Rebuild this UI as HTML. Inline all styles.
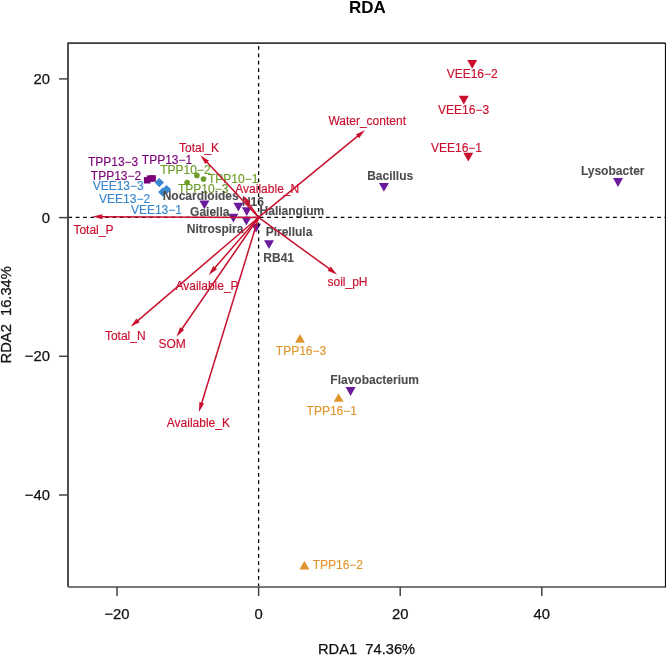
<!DOCTYPE html>
<html><head><meta charset="utf-8"><style>
html,body{margin:0;padding:0;background:#fff;width:666px;height:655px;overflow:hidden}
svg{display:block;will-change:transform;font-family:"Liberation Sans",sans-serif}
</style></head><body>
<svg width="666" height="655" viewBox="0 0 666 655">
<polygon points="467.20,59.90 477.20,59.90 472.20,68.80" fill="#C8102E"/>
<polygon points="458.80,95.70 468.80,95.70 463.80,104.50" fill="#C8102E"/>
<polygon points="463.30,152.70 473.30,152.70 468.30,161.50" fill="#C8102E"/>
<polygon points="295.10,342.70 304.90,342.70 300.00,334.10" fill="#E0962F"/>
<polygon points="333.60,401.70 343.60,401.70 338.60,393.30" fill="#E0962F"/>
<polygon points="299.40,569.50 309.40,569.50 304.40,560.80" fill="#E0962F"/>
<rect x="143.9" y="177.1" width="6.5" height="6.4" fill="#7B0077"/>
<rect x="146.8" y="175.4" width="6.5" height="6.4" fill="#7B0077"/>
<rect x="149.4" y="175.2" width="6.5" height="6.4" fill="#7B0077"/>
<polygon points="159.3,177.9 164.0,182.6 159.3,187.29999999999998 154.60000000000002,182.6" fill="#3A87CF"/>
<polygon points="162.8,187.4 167.5,192.1 162.8,196.79999999999998 158.10000000000002,192.1" fill="#3A87CF"/>
<polygon points="166.6,184.9 171.29999999999998,189.6 166.6,194.29999999999998 161.9,189.6" fill="#3A87CF"/>
<circle cx="196.9" cy="175.4" r="2.8" fill="#6D9C29"/>
<circle cx="203.5" cy="179.1" r="2.8" fill="#6D9C29"/>
<circle cx="187.1" cy="182.6" r="2.8" fill="#6D9C29"/>
<polygon points="613.00,178.10 623.00,178.10 618.00,186.90" fill="#6A1B9A"/>
<polygon points="378.90,182.90 388.90,182.90 383.90,191.70" fill="#6A1B9A"/>
<polygon points="345.60,387.10 355.60,387.10 350.60,395.90" fill="#6A1B9A"/>
<polygon points="199.40,200.40 209.40,200.40 204.40,209.20" fill="#6A1B9A"/>
<polygon points="233.40,202.80 243.40,202.80 238.40,211.60" fill="#6A1B9A"/>
<polygon points="241.80,207.30 251.80,207.30 246.80,216.10" fill="#6A1B9A"/>
<polygon points="228.40,213.70 238.40,213.70 233.40,222.50" fill="#6A1B9A"/>
<polygon points="241.40,216.70 251.40,216.70 246.40,225.50" fill="#6A1B9A"/>
<polygon points="251.10,223.80 261.10,223.80 256.10,232.60" fill="#6A1B9A"/>
<polygon points="264.00,240.30 274.00,240.30 269.00,249.10" fill="#6A1B9A"/>
<text x="472.20" y="77.90" font-size="12" font-weight="normal" fill="#C8102E" stroke="#C8102E" stroke-width="0.15" text-anchor="middle">VEE16−2</text>
<text x="463.60" y="114.00" font-size="12" font-weight="normal" fill="#C8102E" stroke="#C8102E" stroke-width="0.15" text-anchor="middle">VEE16−3</text>
<text x="456.50" y="152.20" font-size="12" font-weight="normal" fill="#C8102E" stroke="#C8102E" stroke-width="0.15" text-anchor="middle">VEE16−1</text>
<text x="301.00" y="355.20" font-size="12" font-weight="normal" fill="#E0962F" stroke="#E0962F" stroke-width="0.15" text-anchor="middle">TPP16−3</text>
<text x="331.75" y="415.10" font-size="12" font-weight="normal" fill="#E0962F" stroke="#E0962F" stroke-width="0.15" text-anchor="middle">TPP16−1</text>
<text x="337.85" y="569.10" font-size="12" font-weight="normal" fill="#E0962F" stroke="#E0962F" stroke-width="0.15" text-anchor="middle">TPP16−2</text>
<text x="113.10" y="165.70" font-size="12" font-weight="normal" fill="#7B0077" stroke="#7B0077" stroke-width="0.15" text-anchor="middle">TPP13−3</text>
<text x="116.05" y="180.10" font-size="12" font-weight="normal" fill="#7B0077" stroke="#7B0077" stroke-width="0.15" text-anchor="middle">TPP13−2</text>
<text x="167.00" y="163.50" font-size="12" font-weight="normal" fill="#7B0077" stroke="#7B0077" stroke-width="0.15" text-anchor="middle">TPP13−1</text>
<text x="118.20" y="190.40" font-size="12" font-weight="normal" fill="#3A87CF" stroke="#3A87CF" stroke-width="0.15" text-anchor="middle">VEE13−3</text>
<text x="124.55" y="203.10" font-size="12" font-weight="normal" fill="#3A87CF" stroke="#3A87CF" stroke-width="0.15" text-anchor="middle">VEE13−2</text>
<text x="156.40" y="214.30" font-size="12" font-weight="normal" fill="#3A87CF" stroke="#3A87CF" stroke-width="0.15" text-anchor="middle">VEE13−1</text>
<text x="185.45" y="173.90" font-size="12" font-weight="normal" fill="#6D9C29" stroke="#6D9C29" stroke-width="0.15" text-anchor="middle">TPP10−2</text>
<text x="233.15" y="183.00" font-size="12" font-weight="normal" fill="#6D9C29" stroke="#6D9C29" stroke-width="0.15" text-anchor="middle">TPP10−1</text>
<text x="203.20" y="193.20" font-size="12" font-weight="normal" fill="#6D9C29" stroke="#6D9C29" stroke-width="0.15" text-anchor="middle">TPP10−3</text>
<text x="612.70" y="175.10" font-size="12" font-weight="bold" fill="#4D4D4D" stroke="#4D4D4D" stroke-width="0.1" text-anchor="middle">Lysobacter</text>
<text x="390.20" y="180.30" font-size="12" font-weight="bold" fill="#4D4D4D" stroke="#4D4D4D" stroke-width="0.1" text-anchor="middle">Bacillus</text>
<text x="374.70" y="384.20" font-size="12" font-weight="bold" fill="#4D4D4D" stroke="#4D4D4D" stroke-width="0.1" text-anchor="middle">Flavobacterium</text>
<text x="200.70" y="199.90" font-size="12" font-weight="bold" fill="#4D4D4D" stroke="#4D4D4D" stroke-width="0.1" text-anchor="middle">Nocardioides</text>
<text x="252.95" y="205.60" font-size="12" font-weight="bold" fill="#4D4D4D" stroke="#4D4D4D" stroke-width="0.1" text-anchor="middle">N16</text>
<text x="291.90" y="215.30" font-size="12" font-weight="bold" fill="#4D4D4D" stroke="#4D4D4D" stroke-width="0.1" text-anchor="middle">Haliangium</text>
<text x="209.75" y="215.70" font-size="12" font-weight="bold" fill="#4D4D4D" stroke="#4D4D4D" stroke-width="0.1" text-anchor="middle">Gaiella</text>
<text x="215.10" y="233.30" font-size="12" font-weight="bold" fill="#4D4D4D" stroke="#4D4D4D" stroke-width="0.1" text-anchor="middle">Nitrospira</text>
<text x="289.00" y="235.90" font-size="12" font-weight="bold" fill="#4D4D4D" stroke="#4D4D4D" stroke-width="0.1" text-anchor="middle">Pirellula</text>
<text x="278.65" y="262.40" font-size="12" font-weight="bold" fill="#4D4D4D" stroke="#4D4D4D" stroke-width="0.1" text-anchor="middle">RB41</text>
<line x1="68.0" y1="217.4" x2="665.5" y2="217.4" stroke="#000" stroke-width="1.3" stroke-dasharray="3.7,3.66" stroke-dashoffset="-0.4"/>
<line x1="258.6" y1="43.0" x2="258.6" y2="587.0" stroke="#000" stroke-width="1.3" stroke-dasharray="3.7,3.66" stroke-dashoffset="4.25"/>
<line x1="258.6" y1="217.4" x2="358.23" y2="135.69" stroke="#C8102E" stroke-width="1.5"/>
<polygon points="365.03,130.11 359.04,138.26 355.87,134.39" fill="#C8102E"/>
<line x1="258.6" y1="217.4" x2="206.41" y2="161.61" stroke="#C8102E" stroke-width="1.5"/>
<polygon points="200.40,155.18 208.92,160.63 205.26,164.05" fill="#C8102E"/>
<line x1="258.6" y1="217.4" x2="247.92" y2="202.33" stroke="#C8102E" stroke-width="1.5"/>
<polygon points="242.83,195.16 250.53,201.70 246.46,204.60" fill="#C8102E"/>
<line x1="258.6" y1="217.4" x2="101.40" y2="216.64" stroke="#C8102E" stroke-width="1.5"/>
<polygon points="92.60,216.60 102.41,214.15 102.39,219.15" fill="#C8102E"/>
<line x1="258.6" y1="217.4" x2="214.47" y2="268.28" stroke="#C8102E" stroke-width="1.5"/>
<polygon points="208.70,274.93 213.24,265.89 217.01,269.16" fill="#C8102E"/>
<line x1="258.6" y1="217.4" x2="137.26" y2="321.08" stroke="#C8102E" stroke-width="1.5"/>
<polygon points="130.57,326.79 136.40,318.53 139.65,322.33" fill="#C8102E"/>
<line x1="258.6" y1="217.4" x2="181.52" y2="329.50" stroke="#C8102E" stroke-width="1.5"/>
<polygon points="176.53,336.75 180.02,327.26 184.14,330.09" fill="#C8102E"/>
<line x1="258.6" y1="217.4" x2="201.49" y2="403.67" stroke="#C8102E" stroke-width="1.5"/>
<polygon points="198.91,412.09 199.39,401.98 204.17,403.45" fill="#C8102E"/>
<line x1="258.6" y1="217.4" x2="329.92" y2="269.20" stroke="#C8102E" stroke-width="1.5"/>
<polygon points="337.04,274.38 327.64,270.64 330.58,266.59" fill="#C8102E"/>
<text x="367.20" y="125.20" font-size="12" font-weight="normal" fill="#C8102E" stroke="#C8102E" stroke-width="0.15" text-anchor="middle">Water_content</text>
<text x="199.05" y="152.00" font-size="12" font-weight="normal" fill="#C8102E" stroke="#C8102E" stroke-width="0.15" text-anchor="middle">Total_K</text>
<text x="267.25" y="192.80" font-size="12" font-weight="normal" fill="#C8102E" stroke="#C8102E" stroke-width="0.15" text-anchor="middle">Available_N</text>
<text x="93.45" y="234.20" font-size="12" font-weight="normal" fill="#C8102E" stroke="#C8102E" stroke-width="0.15" text-anchor="middle">Total_P</text>
<text x="207.05" y="289.90" font-size="12" font-weight="normal" fill="#C8102E" stroke="#C8102E" stroke-width="0.15" text-anchor="middle">Available_P</text>
<text x="125.25" y="340.20" font-size="12" font-weight="normal" fill="#C8102E" stroke="#C8102E" stroke-width="0.15" text-anchor="middle">Total_N</text>
<text x="172.10" y="348.20" font-size="12" font-weight="normal" fill="#C8102E" stroke="#C8102E" stroke-width="0.15" text-anchor="middle">SOM</text>
<text x="198.35" y="427.20" font-size="12" font-weight="normal" fill="#C8102E" stroke="#C8102E" stroke-width="0.15" text-anchor="middle">Available_K</text>
<text x="347.50" y="285.70" font-size="12" font-weight="normal" fill="#C8102E" stroke="#C8102E" stroke-width="0.15" text-anchor="middle">soil_pH</text>
<path d="M68.0,587.0 L68.0,43.0 L665.5,43.0" fill="none" stroke="#383838" stroke-width="1.75" stroke-linejoin="round"/>
<line x1="68.0" y1="587.0" x2="666" y2="587.0" stroke="#777" stroke-width="1.8"/>
<line x1="665.5" y1="43.0" x2="665.5" y2="587.0" stroke="#111" stroke-width="1.2"/>
<line x1="117.0" y1="587.0" x2="117.0" y2="596.0" stroke="#444" stroke-width="1.5"/>
<text x="117.00" y="618.7" font-size="14.8" fill="#111" stroke="#111" stroke-width="0.25" text-anchor="middle">−20</text>
<line x1="258.6" y1="587.0" x2="258.6" y2="596.0" stroke="#444" stroke-width="1.5"/>
<text x="258.60" y="618.7" font-size="14.8" fill="#111" stroke="#111" stroke-width="0.25" text-anchor="middle">0</text>
<line x1="400.2" y1="587.0" x2="400.2" y2="596.0" stroke="#444" stroke-width="1.5"/>
<text x="400.20" y="618.7" font-size="14.8" fill="#111" stroke="#111" stroke-width="0.25" text-anchor="middle">20</text>
<line x1="541.8" y1="587.0" x2="541.8" y2="596.0" stroke="#444" stroke-width="1.5"/>
<text x="541.80" y="618.7" font-size="14.8" fill="#111" stroke="#111" stroke-width="0.25" text-anchor="middle">40</text>
<line x1="68.0" y1="78.9" x2="59.0" y2="78.9" stroke="#444" stroke-width="1.5"/>
<text x="49.9" y="83.90" font-size="14.8" fill="#111" stroke="#111" stroke-width="0.25" text-anchor="end">20</text>
<line x1="68.0" y1="217.6" x2="59.0" y2="217.6" stroke="#444" stroke-width="1.5"/>
<text x="49.9" y="222.60" font-size="14.8" fill="#111" stroke="#111" stroke-width="0.25" text-anchor="end">0</text>
<line x1="68.0" y1="356.3" x2="59.0" y2="356.3" stroke="#444" stroke-width="1.5"/>
<text x="49.9" y="361.30" font-size="14.8" fill="#111" stroke="#111" stroke-width="0.25" text-anchor="end">−20</text>
<line x1="68.0" y1="495.0" x2="59.0" y2="495.0" stroke="#444" stroke-width="1.5"/>
<text x="49.9" y="500.00" font-size="14.8" fill="#111" stroke="#111" stroke-width="0.25" text-anchor="end">−40</text>
<text x="366.6" y="653.8" font-size="14.7" fill="#111" stroke="#111" stroke-width="0.25" text-anchor="middle" xml:space="preserve">RDA1  74.36%</text>
<text transform="translate(11.3,314.8) rotate(-90)" x="0" y="0" font-size="14.7" fill="#111" stroke="#111" stroke-width="0.25" text-anchor="middle" xml:space="preserve">RDA2  16.34%</text>
<text x="367.3" y="12.8" font-size="17" font-weight="bold" fill="#000" text-anchor="middle">RDA</text>
</svg></body></html>
